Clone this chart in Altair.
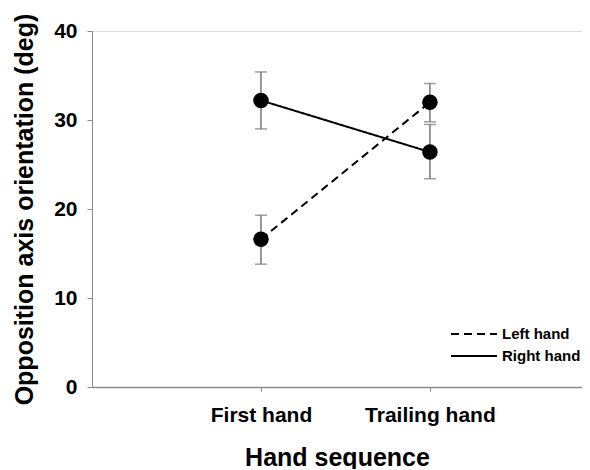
import altair as alt
import pandas as pd

hands = ["Left hand", "Left hand", "Right hand", "Right hand"]
sequence = ["First hand", "Trailing hand", "First hand", "Trailing hand"]
seq_pos = [1, 2, 1, 2]
means = [16.6, 32.0, 32.2, 26.4]
lower = [13.8, 29.8, 29.0, 23.4]
upper = [19.3, 34.1, 35.4, 29.5]

df = pd.DataFrame({"hand": hands, "seq": sequence, "pos": seq_pos,
                   "mean": means, "lo": lower, "hi": upper})

FONT = "Liberation Sans"
AX = "#8a8a8a"

x = alt.X("pos:Q", scale=alt.Scale(domain=[0, 2.9], nice=False),
          axis=alt.Axis(title="Hand sequence", values=[1, 2],
                        labelExpr="datum.value == 1 ? 'First hand' : 'Trailing hand'",
                        grid=False, domainColor=AX, domainWidth=1.5, tickColor=AX, tickSize=4,
                        labelFontSize=21, labelFont=FONT, labelFontWeight="bold",
                        labelColor="black", labelPadding=13,
                        titleFontSize=25, titleFont=FONT, titleFontWeight="bold",
                        titleColor="black", titlePadding=20))
y = alt.Y("mean:Q", scale=alt.Scale(domain=[0, 40], nice=False),
          axis=alt.Axis(title="Opposition axis orientation (deg)", values=[0, 10, 20, 30, 40],
                        grid=False, domainColor=AX, tickColor=AX, tickSize=5,
                        labelFontSize=21, labelFont=FONT, labelFontWeight="bold",
                        labelColor="black", labelPadding=10,
                        titleFontSize=25, titleFont=FONT, titleFontWeight="bold",
                        titleColor="black", titlePadding=16))

base = alt.Chart(df)

lines = base.mark_line(color="black", strokeWidth=2).encode(
    x=x, y=y,
    strokeDash=alt.StrokeDash("hand:N",
        scale=alt.Scale(domain=["Left hand", "Right hand"], range=[[8, 5], [1, 0]]),
        legend=alt.Legend(title=None, orient="none", legendX=358, legendY=294,
                          symbolType="stroke", symbolStrokeWidth=2, symbolSize=2116,
                          symbolStrokeColor="black", labelFont=FONT, labelFontSize=15,
                          labelFontWeight="bold", labelColor="black", labelOffset=4,
                          clipHeight=18, rowPadding=4, padding=0)),
    detail="hand:N",
)

err = base.mark_rule(color="#777777", strokeWidth=1.5).encode(x="pos:Q", y="lo:Q", y2="hi:Q")
cap_lo = base.mark_tick(color="#777777", thickness=1.5, size=12, orient="horizontal").encode(x="pos:Q", y="lo:Q")
cap_hi = base.mark_tick(color="#777777", thickness=1.5, size=12, orient="horizontal").encode(x="pos:Q", y="hi:Q")

pts = base.mark_point(filled=True, color="black", opacity=1, size=240, shape="circle").encode(x="pos:Q", y="mean:Q")

chart = alt.layer(err, cap_lo, cap_hi, lines, pts).properties(
    width=490, height=356, autosize="none",
    padding={"left": 84, "top": 23, "right": 0, "bottom": 82},
).configure_view(stroke=None).configure(background="white")

chart.save("out.html", embed_options={"renderer": "svg", "actions": False})
